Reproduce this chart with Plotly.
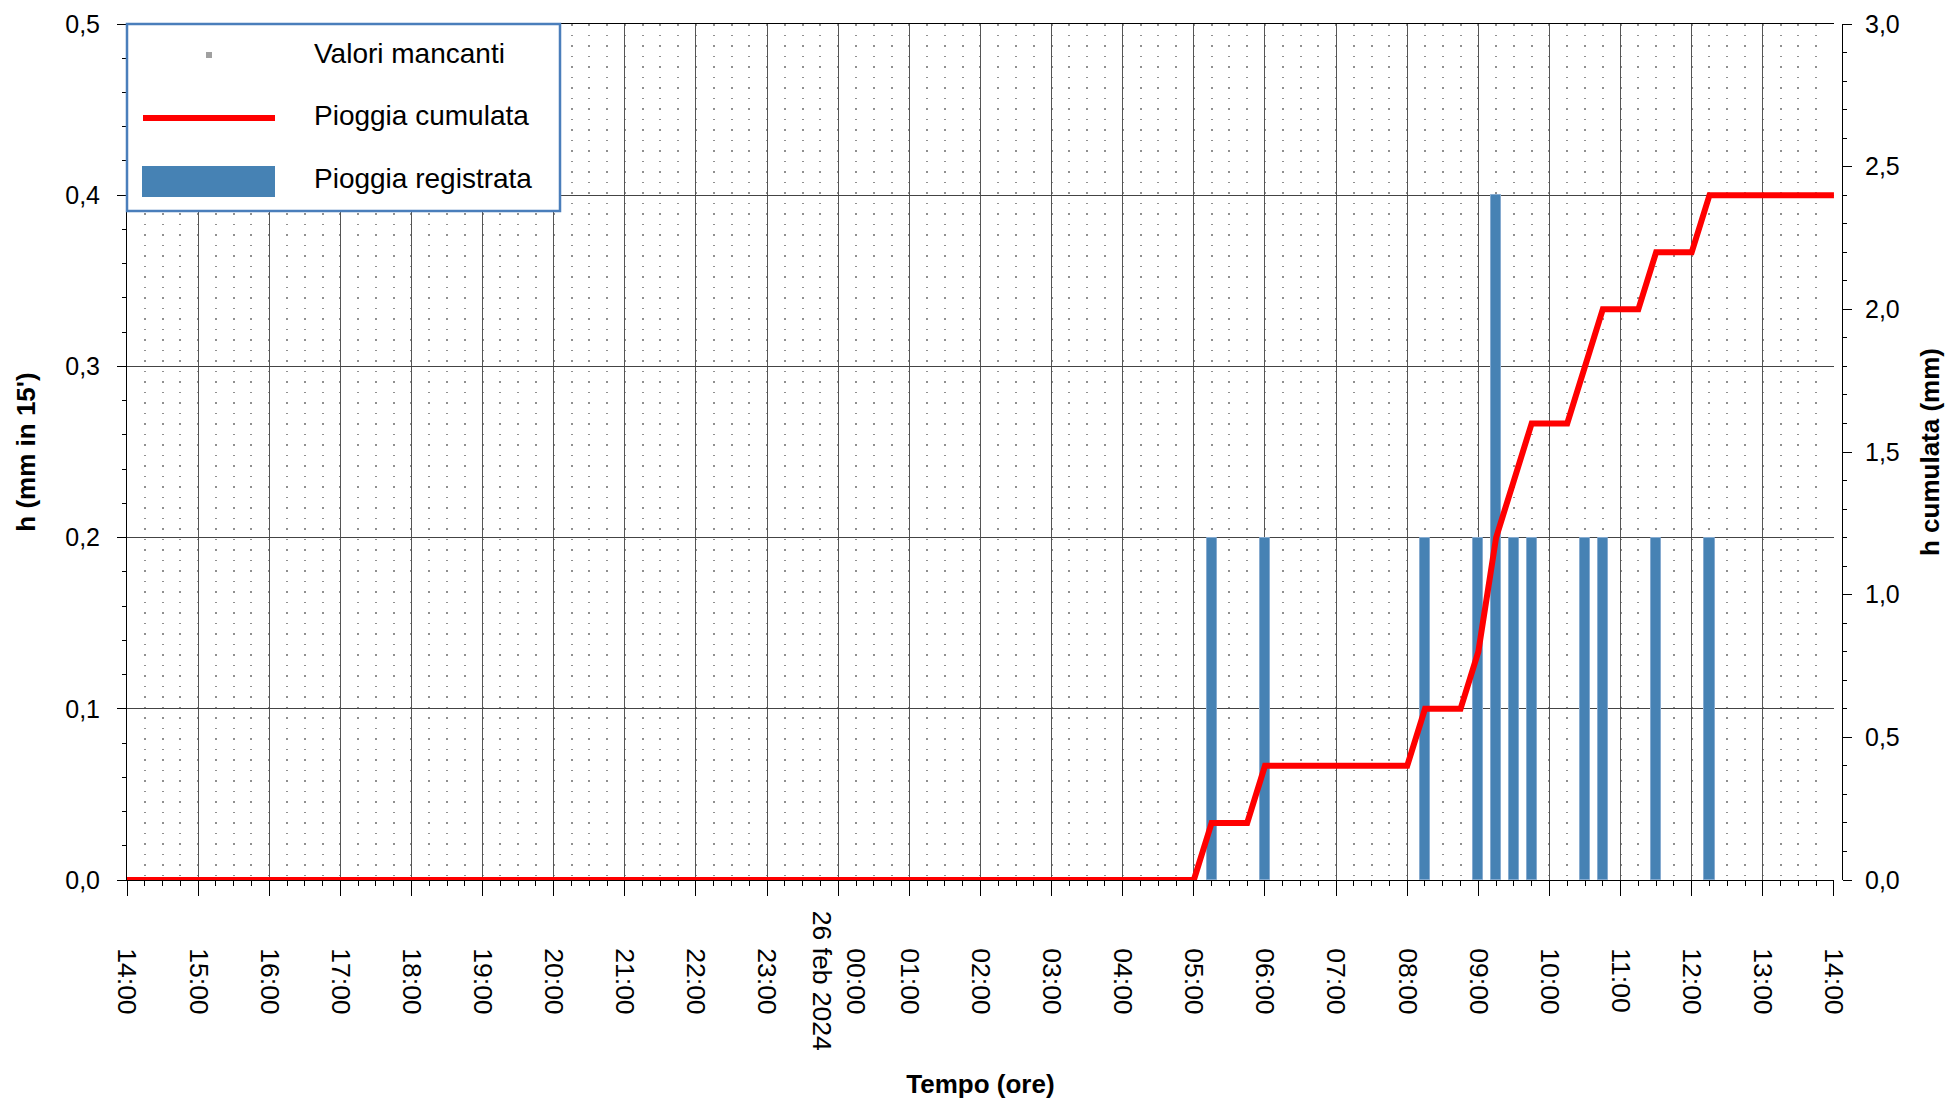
import plotly.graph_objects as go

# ---------------- data ----------------
rain_times = ["2024-02-26 05:15", "2024-02-26 06:00", "2024-02-26 08:15",
              "2024-02-26 09:00", "2024-02-26 09:15", "2024-02-26 09:30",
              "2024-02-26 09:45", "2024-02-26 10:30", "2024-02-26 10:45",
              "2024-02-26 11:30", "2024-02-26 12:15"]
rain_values = [0.2, 0.2, 0.2, 0.2, 0.4, 0.2, 0.2, 0.2, 0.2, 0.2, 0.2]

cum_times = ["2024-02-25 14:00", "2024-02-26 05:00", "2024-02-26 05:15",
             "2024-02-26 05:45", "2024-02-26 06:00", "2024-02-26 08:00",
             "2024-02-26 08:15", "2024-02-26 08:45", "2024-02-26 09:00",
             "2024-02-26 09:15", "2024-02-26 09:30", "2024-02-26 09:45",
             "2024-02-26 10:15", "2024-02-26 10:30", "2024-02-26 10:45",
             "2024-02-26 11:15", "2024-02-26 11:30", "2024-02-26 12:00",
             "2024-02-26 12:15", "2024-02-26 14:00"]
cum_values = [0.0, 0.0, 0.2, 0.2, 0.4, 0.4, 0.6, 0.6, 0.8, 1.2, 1.4, 1.6,
              1.6, 1.8, 2.0, 2.0, 2.2, 2.2, 2.4, 2.4]

hour_ticks = ["2024-02-25 14:00", "2024-02-25 15:00", "2024-02-25 16:00",
              "2024-02-25 17:00", "2024-02-25 18:00", "2024-02-25 19:00",
              "2024-02-25 20:00", "2024-02-25 21:00", "2024-02-25 22:00",
              "2024-02-25 23:00", "2024-02-26 00:00", "2024-02-26 01:00",
              "2024-02-26 02:00", "2024-02-26 03:00", "2024-02-26 04:00",
              "2024-02-26 05:00", "2024-02-26 06:00", "2024-02-26 07:00",
              "2024-02-26 08:00", "2024-02-26 09:00", "2024-02-26 10:00",
              "2024-02-26 11:00", "2024-02-26 12:00", "2024-02-26 13:00",
              "2024-02-26 14:00"]
hour_labels = ["14:00", "15:00", "16:00", "17:00", "18:00", "19:00", "20:00",
               "21:00", "22:00", "23:00", "00:00<br>\u00a0", "01:00", "02:00",
               "03:00", "04:00", "05:00", "06:00", "07:00", "08:00", "09:00",
               "10:00", "11:00", "12:00", "13:00", "14:00"]
date_label = "26 feb 2024"
date_label_at = "2024-02-26 00:00"

legend_names = ["Valori mancanti", "Pioggia cumulata", "Pioggia registrata"]

# ---------------- geometry helpers ----------------
W, H = 1950, 1099
ML, MR, MT, MB = 127, 108, 24, 219
PW, PH = W - ML - MR, H - MT - MB


def px(xp):
    return (xp - ML) / PW


def py(yp):
    return (H - MB - yp) / PH


FONT = "Liberation Sans, Arial, sans-serif"
BLUE = "#4682B4"
RED = "#FF0000"

fig = go.Figure()
fig.add_trace(go.Bar(x=rain_times, y=rain_values, width=510000,
                     marker=dict(color=BLUE, line=dict(width=1, color="#86ABD0")),
                     name=legend_names[2], yaxis="y"))
fig.add_trace(go.Scatter(x=cum_times, y=cum_values, mode="lines",
                         line=dict(color=RED, width=6),
                         name=legend_names[1], yaxis="y2"))
fig.add_trace(go.Scatter(x=[], y=[], mode="markers",
                         marker=dict(color="#A0A0A0", symbol="square", size=6),
                         name=legend_names[0], yaxis="y"))

fig.update_layout(
    width=W, height=H,
    margin=dict(l=ML, r=MR, t=MT, b=MB, autoexpand=False),
    paper_bgcolor="white", plot_bgcolor="white",
    separators=",.",
    showlegend=False,
    font=dict(family=FONT, size=25, color="black"),
    bargap=0,
    xaxis=dict(
        type="date",
        range=["2024-02-25 14:00", "2024-02-26 14:00"],
        domain=[0, 0.9953],
        tickmode="array", tickvals=hour_ticks, ticktext=hour_labels,
        tickangle=90, ticks="outside", ticklen=15, tickcolor="black",
        tickfont=dict(size=26.5),
        ticklabelstandoff=47,
        showgrid=True, gridcolor="#555555", gridwidth=1,
        showline=True, linecolor="black", linewidth=1, mirror=True,
        zeroline=False,
        minor=dict(dtick=900000, tick0="2024-02-25 14:00", ticks="outside",
                   ticklen=5, tickcolor="black", showgrid=True,
                   gridcolor="#909090", griddash="1.5px,9px", gridwidth=1.5),
        title=dict(text="<b>Tempo (ore)</b>", font=dict(size=26), standoff=64),
    ),
    yaxis=dict(
        range=[0, 0.5], tick0=0, dtick=0.1, tickformat=".1f",
        ticks="outside", ticklen=9, tickcolor="black",
        ticklabelstandoff=12,
        showgrid=True, gridcolor="#444444", gridwidth=1.2,
        showline=True, linecolor="black", linewidth=1, zeroline=False,
        minor=dict(dtick=0.02, ticks="outside", ticklen=4, tickcolor="black",
                   showgrid=False),
        title=dict(text="<b>h (mm in 15')</b>", font=dict(size=26), standoff=22),
    ),
    yaxis2=dict(
        overlaying="y", side="right", anchor="free", position=1,
        range=[0, 3], tick0=0, dtick=0.5, tickformat=".1f",
        ticks="outside", ticklen=9, tickcolor="black",
        ticklabelstandoff=8,
        showgrid=False, showline=True, linecolor="black", linewidth=1,
        zeroline=False,
        minor=dict(dtick=0.1, ticks="outside", ticklen=4, tickcolor="black"),
        title=dict(text="<b>h cumulata (mm)</b>", font=dict(size=26), standoff=22),
    ),
)

# date annotation next to the midnight tick label
fig.add_annotation(x=date_label_at, xref="x", y=py(981), yref="paper",
                   text=date_label, textangle=90, showarrow=False,
                   xanchor="center", yanchor="middle", xshift=-16,
                   font=dict(size=26.5, color="black"))

# ---------------- legend box (drawn in paper coordinates) ----------------
fig.add_shape(type="rect", xref="paper", yref="paper", layer="above",
              x0=px(127), x1=px(560), y0=py(211), y1=py(24),
              fillcolor="white", line=dict(color="#4A7EBB", width=2.5))
fig.add_shape(type="rect", xref="paper", yref="paper", layer="above",
              x0=px(206), x1=px(212), y0=py(58), y1=py(52),
              fillcolor="#A0A0A0", line=dict(width=0))
fig.add_shape(type="line", xref="paper", yref="paper", layer="above",
              x0=px(143), x1=px(275), y0=py(118), y1=py(118),
              line=dict(color=RED, width=6))
fig.add_shape(type="rect", xref="paper", yref="paper", layer="above",
              x0=px(142), x1=px(275), y0=py(197), y1=py(166),
              fillcolor=BLUE, line=dict(width=0))
for name, yc in zip(legend_names, [54, 116, 178]):
    fig.add_annotation(x=px(312), y=py(yc), xref="paper", yref="paper",
                       text=name, showarrow=False, xanchor="left",
                       yanchor="middle", font=dict(size=28, color="black"))

fig.write_html("out.html",
               config={"displayModeBar": False},
               post_script="document.body.style.margin='0';"
                           "document.body.style.padding='0';"
                           "document.body.style.overflow='hidden';")
